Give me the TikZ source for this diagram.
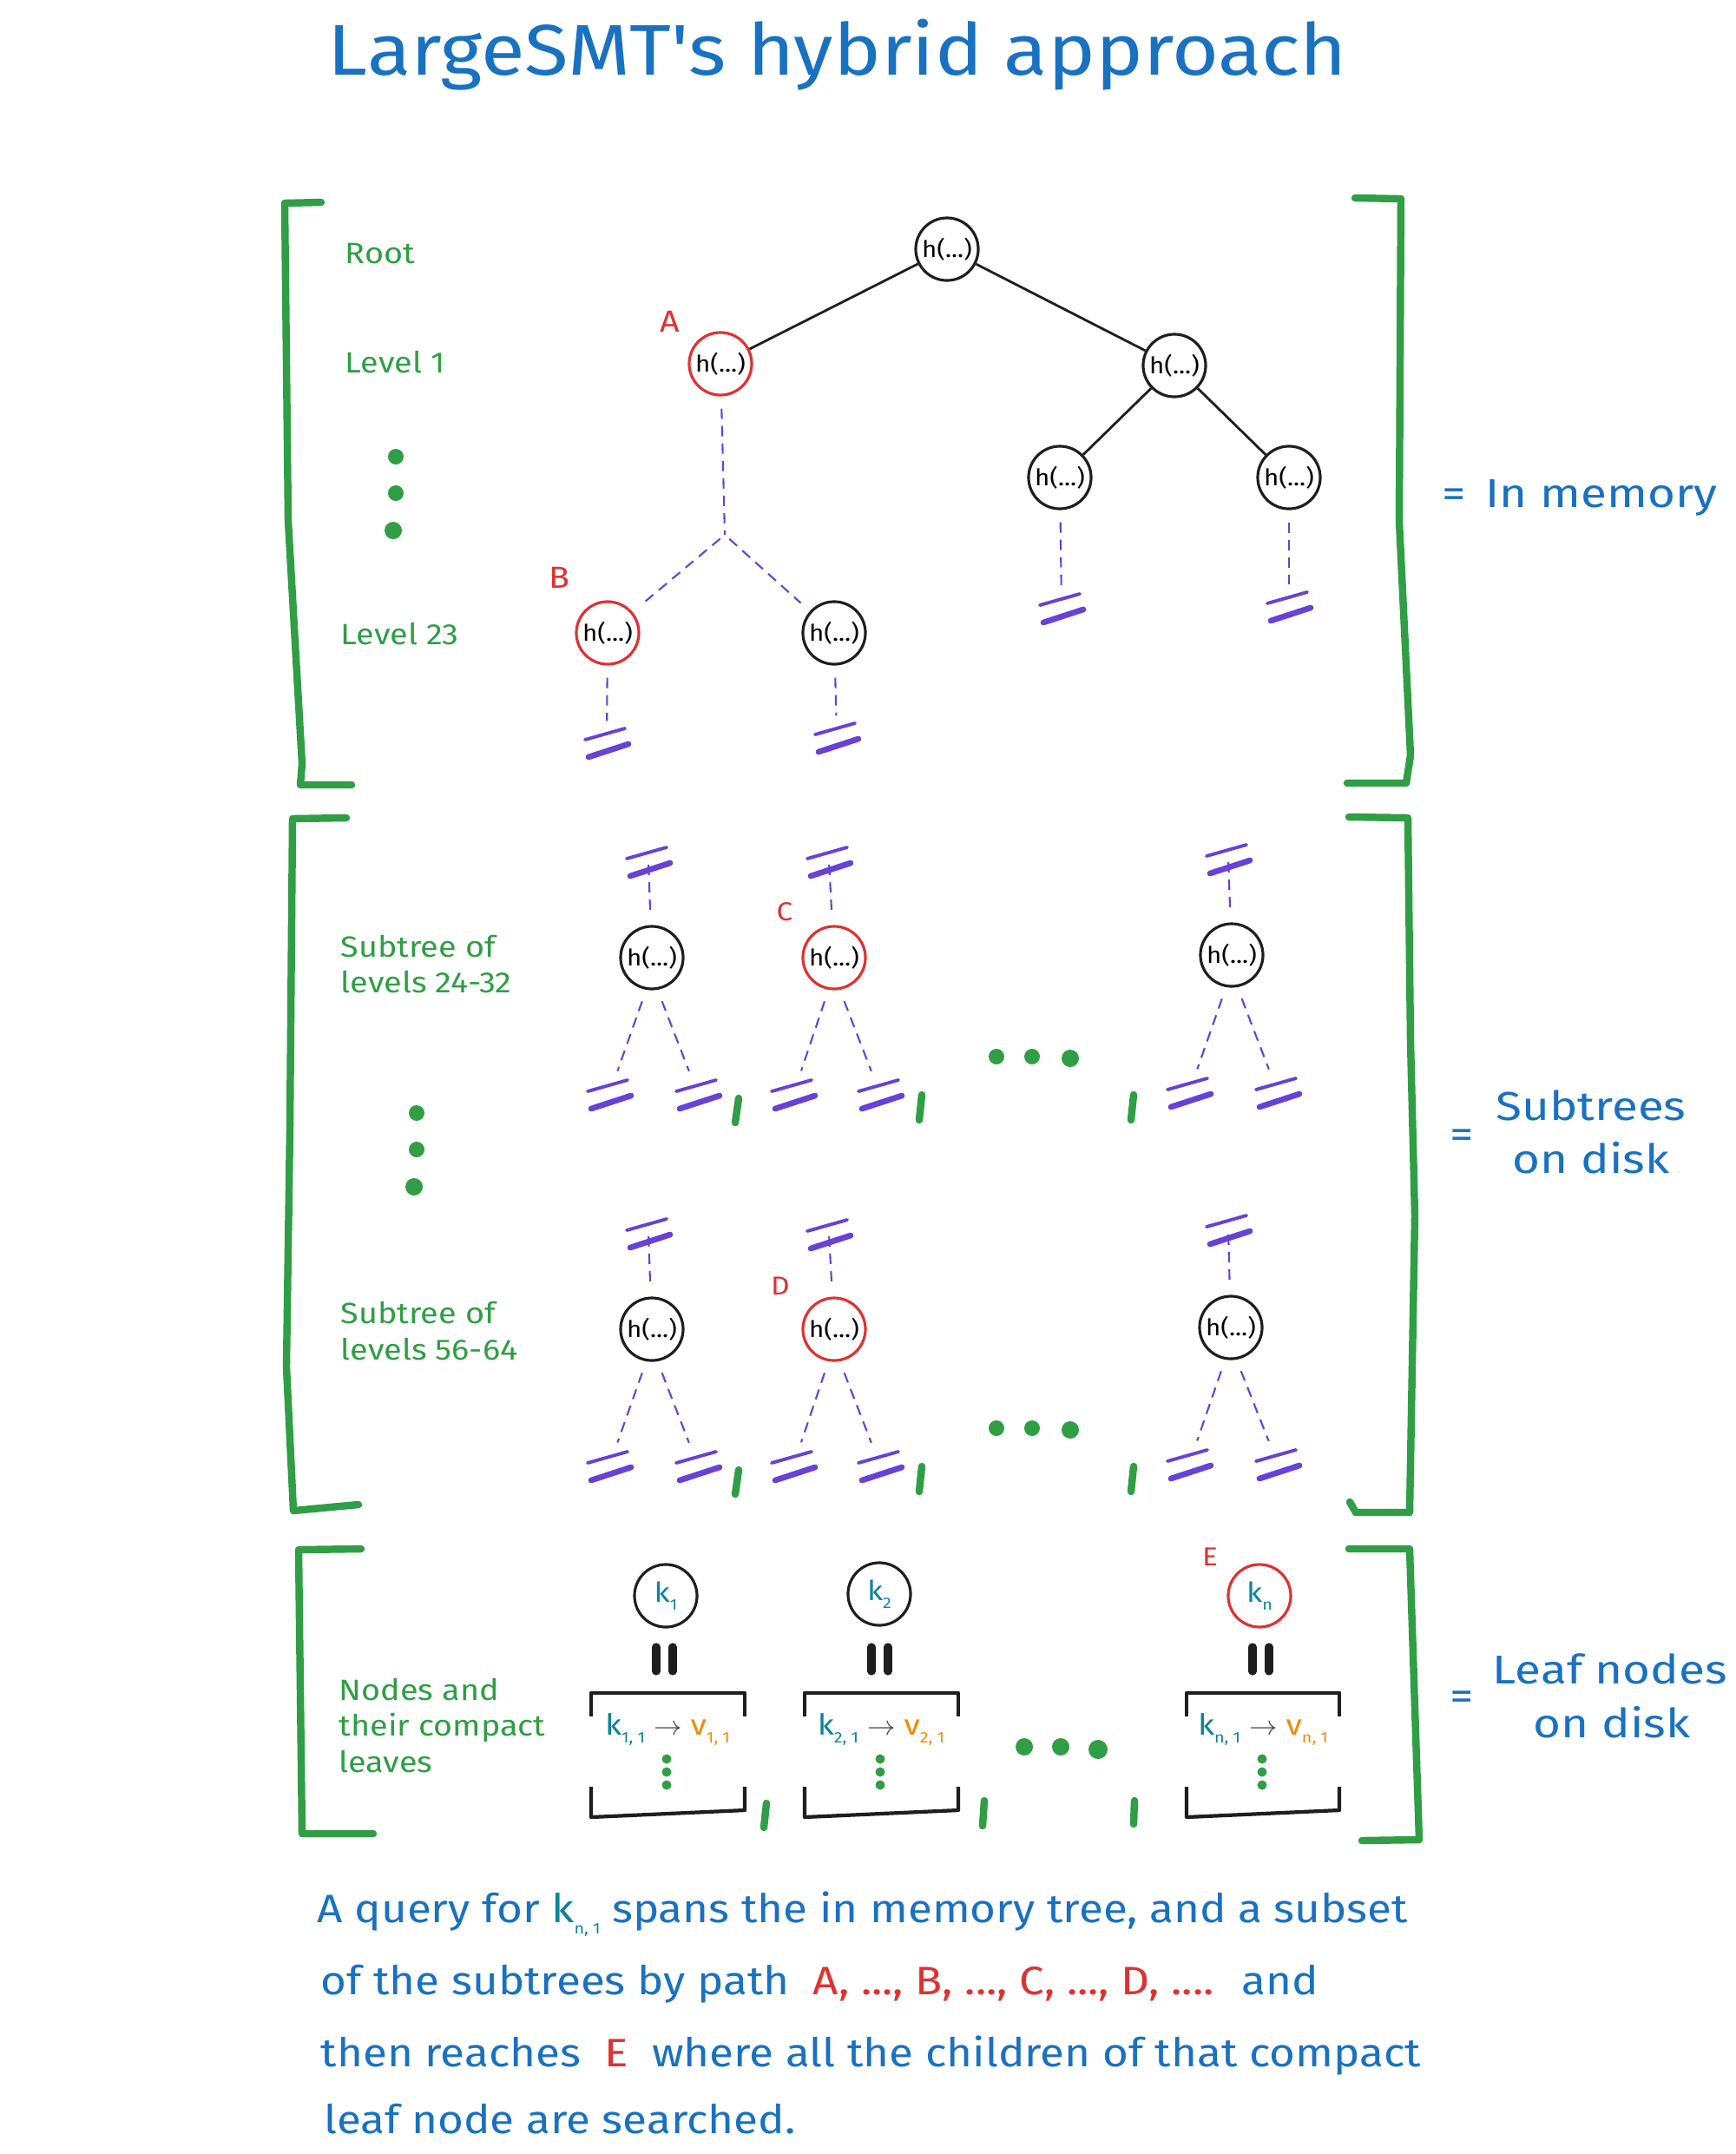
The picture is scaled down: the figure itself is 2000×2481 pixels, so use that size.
\documentclass[tikz,border=0pt]{standalone}
\usepackage{fontspec}
\newfontfamily\hand[FakeStretch=1.12]{Fira Sans}
\newfontfamily\wide[FakeStretch=1.18]{Fira Sans}
\usepackage{tikz}

\definecolor{ink}{HTML}{1E1E1E}
\definecolor{leafgreen}{HTML}{2F9E44}
\definecolor{hred}{HTML}{E03131}
\definecolor{hblue}{HTML}{1971C2}
\definecolor{lazyviolet}{HTML}{6741D9}
\definecolor{keyteal}{HTML}{0C8599}
\definecolor{valorange}{HTML}{F08C00}

\newcommand{\lowidx}[1]{\raisebox{-0.55ex}{\fontsize{5}{5}\selectfont #1}}

\tikzset{
  hnode/.style={circle, draw=ink, line width=0.9pt, minimum size=7.2mm, inner sep=0pt,
    font=\hand\fontsize{7.5}{9}\selectfont},
  hot/.style={draw=hred},
  knode/.style={hnode, text=keyteal, font=\hand\fontsize{9}{10}\selectfont},
  memedge/.style={draw=ink, line width=0.8pt},
  lazy/.style={draw=lazyviolet, line width=0.6pt, dash pattern=on 3.4pt off 2.3pt},
  bracket/.style={draw=leafgreen, line width=2.4pt, line cap=round, line join=round},
  sep/.style={draw=leafgreen, line width=2.4pt, line cap=round},
  leafbox/.style={draw=ink, line width=1.2pt, line join=round},
  lvl/.style={anchor=base west, inner sep=0pt, text=leafgreen,
    font=\hand\fontsize{9.6}{11.7}\selectfont},
  pathtag/.style={inner sep=0pt, text=hred, font=\hand\fontsize{10}{12}\selectfont},
  smalltag/.style={pathtag, font=\hand\fontsize{8.5}{10}\selectfont},
  sidelabel/.style={inner sep=0pt, anchor=base, text=hblue, font=\wide\fontsize{13.2}{16}\selectfont},
  query/.style={anchor=base west, inner sep=0pt, text=hblue, font=\hand\fontsize{13}{16}\selectfont},
  pair/.style={anchor=base, inner sep=0pt, font=\hand\fontsize{9.5}{11}\selectfont},
  cut/.pic={
    \draw[lazyviolet, line width=1.1pt, line cap=round] (-25,-3) -- (21,-16);
    \draw[lazyviolet, line width=1.9pt, line cap=round] (-21,17) -- (25,2);
  },
}

\begin{document}
\begin{tikzpicture}[x=0.01cm, y=-0.01cm]
  \useasboundingbox (0,0) rectangle (2000,2481);

  % title
  \node[anchor=base, inner sep=0pt, text=hblue, font=\hand\fontsize{23.5}{28}\selectfont] (title) at (965,86) {LargeSMT's hybrid approach};

  % brackets
  \draw[bracket] (370,233) -- (328,234) -- (332,600) -- (348,880) -- (346,904) -- (405,904);
  \draw[bracket] (1561,228) -- (1614,229) -- (1612,600) -- (1625,870) -- (1620,902) -- (1552,902);
  \draw[bracket] (399,942) -- (337,943) -- (334,1300) -- (330,1574) -- (338,1740) -- (413,1733);
  \draw[bracket] (1554,941) -- (1622,942) -- (1625,1200) -- (1630,1400) -- (1624,1742) -- (1562,1742) -- (1555,1730);
  \draw[bracket] (416,1784) -- (344,1785) -- (348,2112) -- (430,2112);
  \draw[bracket] (1554,1784) -- (1624,1784) -- (1635,2119) -- (1569,2120);

  % level labels
  \node[lvl] (lRoot) at (397,303) {Root};
  \node[lvl] (lOne) at (397,429) {Level 1};
  \node[lvl] (lTwentythree) at (392,742) {Level 23};
  \node[lvl] (lSubA) at (392,1102) {Subtree of};
  \node[lvl] (lSubAb) at (392,1143) {levels 24-32};
  \node[lvl] (lSubB) at (392,1524) {Subtree of};
  \node[lvl] (lSubBb) at (392,1566) {levels 56-64};
  \node[lvl] (lLeaves) at (390,1958) {Nodes and};
  \node[lvl] (lLeavesb) at (390,1999) {their compact};
  \node[lvl] (lLeavesc) at (390,2041) {leaves};
  \fill[leafgreen] (456,526) circle (0.09cm) (456,568) circle (0.09cm) (453,611) circle (0.1cm);
  \fill[leafgreen] (480,1282) circle (0.09cm) (480,1324) circle (0.09cm) (477,1367) circle (0.1cm);

  % in memory tree
  \node[hnode] (root) at (1091,287) {h(...)};
  \node[hnode, hot] (lvA) at (830,419) {h(...)};
  \node[hnode] (lvR) at (1353,421) {h(...)};
  \node[hnode] (lvRa) at (1221,550) {h(...)};
  \node[hnode] (lvRb) at (1485,550) {h(...)};
  \node[hnode, hot] (lvB) at (700,729) {h(...)};
  \node[hnode] (lvBb) at (961,729) {h(...)};
  \node[pathtag] (tagA) at (772,370) {A};
  \node[pathtag] (tagB) at (644,665) {B};
  \draw[memedge] (root) -- (lvA);
  \draw[memedge] (root) -- (lvR);
  \draw[memedge] (lvR) -- (lvRa);
  \draw[memedge] (lvR) -- (lvRb);
  \coordinate (jA) at (835,616);
  \draw[lazy, shorten <=4pt] (lvA) -- (jA);
  \draw[lazy, shorten <=2pt, shorten >=4pt] (jA) -- (lvB);
  \draw[lazy, shorten <=2pt, shorten >=4pt] (jA) -- (lvBb);
  \coordinate (cRa) at (1223,700);
  \coordinate (cRb) at (1485,698);
  \coordinate (cB) at (699,855);
  \coordinate (cBb) at (964,849);
  \draw[lazy, shorten <=4pt, shorten >=7pt] (lvRa) -- (cRa);
  \draw[lazy, shorten <=4pt, shorten >=7pt] (lvRb) -- (cRb);
  \draw[lazy, shorten <=4pt, shorten >=7pt] (lvB) -- (cB);
  \draw[lazy, shorten <=4pt, shorten >=7pt] (lvBb) -- (cBb);
  \pic at (cRa) {cut};
  \pic at (cRb) {cut};
  \pic at (cB) {cut};
  \pic at (cBb) {cut};

  % subtrees on disk, first row
  \node[hnode] (stOa) at (751,1103) {h(...)};
  \node[hnode, hot] (stOc) at (961,1103) {h(...)};
  \node[hnode] (stOn) at (1419,1100) {h(...)};
  \node[smalltag] (tagC) at (904,1050) {C};
  \coordinate (tOa) at (747,992);
  \coordinate (tOc) at (955,992);
  \coordinate (tOn) at (1415,989);
  \draw[lazy, shorten <=5pt] (stOa) -- (tOa);
  \draw[lazy, shorten <=5pt] (stOc) -- (tOc);
  \draw[lazy, shorten <=5pt] (stOn) -- (tOn);
  \pic at (tOa) {cut};
  \pic at (tOc) {cut};
  \pic at (tOn) {cut};
  \coordinate (lOa) at (702,1260);
  \coordinate (rOa) at (804,1260);
  \coordinate (lOc) at (914,1260);
  \coordinate (rOc) at (1014,1260);
  \coordinate (lOn) at (1370,1258);
  \coordinate (rOn) at (1472,1258);
  \draw[lazy, shorten <=4pt, shorten >=8pt] (stOa.-100) -- (lOa);
  \draw[lazy, shorten <=4pt, shorten >=8pt] (stOa.-80) -- (rOa);
  \draw[lazy, shorten <=4pt, shorten >=8pt] (stOc.-100) -- (lOc);
  \draw[lazy, shorten <=4pt, shorten >=8pt] (stOc.-80) -- (rOc);
  \draw[lazy, shorten <=4pt, shorten >=8pt] (stOn.-100) -- (lOn);
  \draw[lazy, shorten <=4pt, shorten >=8pt] (stOn.-80) -- (rOn);
  \pic at (lOa) {cut};
  \pic at (rOa) {cut};
  \pic at (lOc) {cut};
  \pic at (rOc) {cut};
  \pic at (lOn) {cut};
  \pic at (rOn) {cut};
  \draw[sep] (851,1265) -- (847,1293);
  \draw[sep] (1062,1261) -- (1059,1290);
  \draw[sep] (1306,1261) -- (1303,1290);
  \fill[leafgreen] (1148,1217) circle (0.09cm) (1189,1217) circle (0.09cm) (1233,1219) circle (0.1cm);

  % subtrees on disk, second row
  \node[hnode] (stTa) at (751,1531) {h(...)};
  \node[hnode, hot] (stTd) at (961,1531) {h(...)};
  \node[hnode] (stTn) at (1418,1529) {h(...)};
  \node[smalltag] (tagD) at (899,1481) {D};
  \coordinate (tTa) at (747,1420);
  \coordinate (tTd) at (955,1421);
  \coordinate (tTn) at (1415,1416);
  \draw[lazy, shorten <=5pt] (stTa) -- (tTa);
  \draw[lazy, shorten <=5pt] (stTd) -- (tTd);
  \draw[lazy, shorten <=5pt] (stTn) -- (tTn);
  \pic at (tTa) {cut};
  \pic at (tTd) {cut};
  \pic at (tTn) {cut};
  \coordinate (lTa) at (702,1688);
  \coordinate (rTa) at (804,1688);
  \coordinate (lTd) at (914,1688);
  \coordinate (rTd) at (1014,1688);
  \coordinate (lTn) at (1370,1686);
  \coordinate (rTn) at (1472,1686);
  \draw[lazy, shorten <=4pt, shorten >=8pt] (stTa.-100) -- (lTa);
  \draw[lazy, shorten <=4pt, shorten >=8pt] (stTa.-80) -- (rTa);
  \draw[lazy, shorten <=4pt, shorten >=8pt] (stTd.-100) -- (lTd);
  \draw[lazy, shorten <=4pt, shorten >=8pt] (stTd.-80) -- (rTd);
  \draw[lazy, shorten <=4pt, shorten >=8pt] (stTn.-100) -- (lTn);
  \draw[lazy, shorten <=4pt, shorten >=8pt] (stTn.-80) -- (rTn);
  \pic at (lTa) {cut};
  \pic at (rTa) {cut};
  \pic at (lTd) {cut};
  \pic at (rTd) {cut};
  \pic at (lTn) {cut};
  \pic at (rTn) {cut};
  \draw[sep] (851,1693) -- (847,1721);
  \draw[sep] (1062,1689) -- (1059,1718);
  \draw[sep] (1306,1689) -- (1303,1718);
  \fill[leafgreen] (1148,1645) circle (0.09cm) (1189,1645) circle (0.09cm) (1233,1647) circle (0.1cm);

  % leaf nodes on disk
  \node[knode] (kOne) at (767,1838) {k\lowidx{1}};
  \node[knode] (kTwo) at (1013,1836) {k\lowidx{2}};
  \node[knode, hot] (kLast) at (1451,1838) {k\lowidx{n}};
  \node[smalltag] (tagE) at (1394,1793) {E};
  \draw[ink, line width=2.6pt, line cap=round] (756,1897) -- (756,1925) (775,1897) -- (775,1925);
  \draw[ink, line width=2.6pt, line cap=round] (1004,1897) -- (1004,1925) (1023,1897) -- (1023,1925);
  \draw[ink, line width=2.6pt, line cap=round] (1443,1897) -- (1443,1925) (1462,1897) -- (1462,1925);
  \draw[leafbox] (681,1977) -- (681,1950) -- (858,1950) -- (858,1977);
  \draw[leafbox] (681,2058) -- (681,2093) -- (858,2085) -- (858,2058);
  \draw[leafbox] (927,1977) -- (927,1950) -- (1104,1950) -- (1104,1977);
  \draw[leafbox] (927,2058) -- (927,2093) -- (1104,2085) -- (1104,2058);
  \draw[leafbox] (1367,1977) -- (1367,1950) -- (1543,1950) -- (1543,1977);
  \draw[leafbox] (1367,2058) -- (1367,2093) -- (1543,2085) -- (1543,2058);
  \node[pair] (pairOne) at (769,1998)
    {\textcolor{keyteal}{k\lowidx{1, 1}} \textcolor{ink!80}{$\rightarrow$} \textcolor{valorange}{v\lowidx{1, 1}}};
  \node[pair] (pairTwo) at (1015,1998)
    {\textcolor{keyteal}{k\lowidx{2, 1}} \textcolor{ink!80}{$\rightarrow$} \textcolor{valorange}{v\lowidx{2, 1}}};
  \node[pair] (pairLast) at (1455,1998)
    {\textcolor{keyteal}{k\lowidx{n, 1}} \textcolor{ink!80}{$\rightarrow$} \textcolor{valorange}{v\lowidx{n, 1}}};
  \fill[leafgreen] (768,2026) circle (0.055cm) (768,2041) circle (0.055cm) (768,2056) circle (0.055cm);
  \fill[leafgreen] (1014,2026) circle (0.055cm) (1014,2041) circle (0.055cm) (1014,2056) circle (0.055cm);
  \fill[leafgreen] (1454,2026) circle (0.055cm) (1454,2041) circle (0.055cm) (1454,2056) circle (0.055cm);
  \draw[sep] (883,2077) -- (880,2105);
  \draw[sep] (1134,2074) -- (1132,2103);
  \draw[sep] (1307,2074) -- (1306,2101);
  \fill[leafgreen] (1180,2012) circle (0.1cm) (1222,2012) circle (0.1cm) (1265,2015) circle (0.11cm);

  % side labels
  \node[sidelabel] (eqMem) at (1675,584) {=};
  \node[sidelabel, anchor=base west] (memLabel) at (1711,584) {In memory};
  \node[sidelabel] (eqSub) at (1684,1322) {=};
  \node[sidelabel] (subLabel) at (1833,1290) {Subtrees};
  \node[sidelabel] (subLabelb) at (1833,1351) {on disk};
  \node[sidelabel] (eqLeaf) at (1684,1969) {=};
  \node[sidelabel] (leafLabel) at (1855,1939) {Leaf nodes};
  \node[sidelabel] (leafLabelb) at (1857,2001) {on disk};

  % query note
  \node[query] (queryA) at (365,2214)
    {A query for \textcolor{keyteal}{k\lowidx{n, 1}} spans the in memory tree, and a subset};
  \node[query] (queryB) at (369,2297)
    {of the subtrees by path \ \textcolor{hred}{A, ..., B, ..., C, ..., D, ....} \ and};
  \node[query] (queryC) at (369,2380)
    {then reaches \ \textcolor{hred}{E} \ where all the children of that compact};
  \node[query] (queryD) at (373,2457) {leaf node are searched.};
\end{tikzpicture}
\end{document}
